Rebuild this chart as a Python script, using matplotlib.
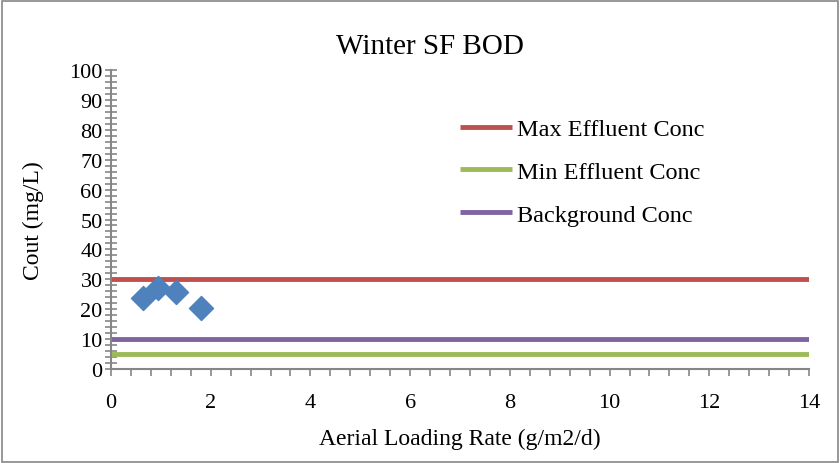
import numpy as np
import matplotlib.pyplot as plt
from matplotlib.ticker import MultipleLocator
from matplotlib.patches import Rectangle

plt.rcParams['font.family'] = ['Liberation Serif', 'DejaVu Serif']

# loading rate vs outlet BOD
loading = [0.64, 0.94, 1.30, 1.80]
cout = [23.7, 27.0, 25.9, 20.3]

x_range = [0, 14]
max_conc = 30
min_conc = 5
background = 10

fig = plt.figure(figsize=(8.4, 4.64), dpi=100)
ax = fig.add_axes([111/840, 1 - 370/464, (809-111)/840, (370-71)/464])

ax.plot(x_range, [max_conc]*2, color='#c0504d', lw=3.5, label='Max Effluent Conc', solid_capstyle='butt')
ax.plot(x_range, [min_conc]*2, color='#9bbb59', lw=3.5, label='Min Effluent Conc', solid_capstyle='butt')
ax.plot(x_range, [background]*2, color='#8064a2', lw=3.5, label='Background Conc', solid_capstyle='butt')
ax.scatter(loading, cout, marker='D', s=150, color='#4f81bd', zorder=5)

ax.set_xlim(0, 14)
ax.set_ylim(0, 100)
ax.xaxis.set_major_locator(MultipleLocator(2))
ax.xaxis.set_minor_locator(MultipleLocator(0.4))
ax.yaxis.set_major_locator(MultipleLocator(10))
ax.yaxis.set_minor_locator(MultipleLocator(2))
ax.tick_params(axis='x', which='both', direction='out', length=5, color='#868686', width=1.2, labelsize=16, pad=12)
ax.tick_params(axis='y', which='both', direction='inout', length=8, color='#868686', width=1.2, labelsize=16, pad=2)
for s in ['top', 'right']:
    ax.spines[s].set_visible(False)
for s in ['left', 'bottom']:
    ax.spines[s].set_color('#868686')
    ax.spines[s].set_linewidth(1.5)

ax.set_title('Winter SF BOD', fontsize=21, pad=12, x=(430-111)/698)
ax.set_xlabel('Aerial Loading Rate (g/m2/d)', fontsize=17, labelpad=12)
ax.set_ylabel('Cout (mg/L)', fontsize=17, labelpad=18)

leg = ax.legend(loc='upper left', bbox_to_anchor=((460-111)/698, (370-119)/299), frameon=False,
                fontsize=17.5, handlelength=2.15, handletextpad=0.2, labelspacing=0.86,
                borderpad=0, borderaxespad=0)

fig.patches.append(Rectangle((0.002, 0.003), 0.996, 0.993, transform=fig.transFigure,
                             fill=False, edgecolor='#868686', lw=1.2))

fig.savefig('out.png', dpi=100)
